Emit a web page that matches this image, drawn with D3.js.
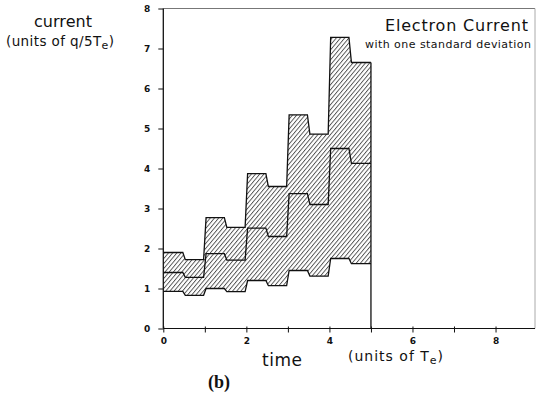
<!DOCTYPE html>
<html><head><meta charset="utf-8">
<script src="https://cdn.jsdelivr.net/npm/d3@7"></script>
<style>body{margin:0;background:#fff}svg{display:block}</style>
</head><body>
<svg id="c" width="537" height="394"></svg>
<script>
// ---- data ----
const binStart = [0, 0.5, 1, 1.5, 2, 2.5, 3, 3.5, 4, 4.5];
const binWidth = 0.5;
const upper = [1.90, 1.72, 2.77, 2.53, 3.87, 3.55, 5.34, 4.86, 7.28, 6.65];
const mean  = [1.40, 1.28, 1.87, 1.71, 2.51, 2.30, 3.37, 3.10, 4.50, 4.13];
const lower = [0.93, 0.83, 1.00, 0.92, 1.20, 1.07, 1.45, 1.31, 1.75, 1.62];
const xTicks = [0, 1, 2, 3, 4, 5, 6, 7, 8];
const xTickLabels = ["0", "", "2", "", "4", "", "6", "", "8"];
const yTicks = [0, 1, 2, 3, 4, 5, 6, 7, 8];

const svg = d3.select("#c");
const x = d3.scaleLinear().domain([0, 8.95]).range([163.3, 535]);
const y = d3.scaleLinear().domain([0, 8]).range([328.5, 8.5]);

// hatch pattern
const defs = svg.append("defs");
const pat = defs.append("pattern").attr("id", "hatch")
  .attr("patternUnits", "userSpaceOnUse").attr("width", 3.2).attr("height", 10)
  .attr("patternTransform", "rotate(40)");
pat.append("line").attr("x1", 0.5).attr("y1", 0).attr("x2", 0.5).attr("y2", 10)
  .attr("stroke", "#111").attr("stroke-width", 0.75);

// build step points with slightly slanted transitions
const eps = 0.03;
const pts = [];
binStart.forEach((s, i) => {
  const e = s + binWidth;
  const a = i === 0 ? s : s + eps;
  const b = i === binStart.length - 1 ? e : e - eps;
  pts.push({x: a, hi: upper[i], m: mean[i], lo: lower[i]});
  pts.push({x: b, hi: upper[i], m: mean[i], lo: lower[i]});
});

const area = d3.area().x(d => x(d.x)).y0(d => y(d.lo)).y1(d => y(d.hi));
svg.append("path").datum(pts).attr("d", area).attr("fill", "url(#hatch)");

const mk = key => d3.line().x(d => x(d.x)).y(d => y(d[key]));
["hi", "m", "lo"].forEach(k => {
  svg.append("path").datum(pts).attr("d", mk(k))
    .attr("fill", "none").attr("stroke", "#111").attr("stroke-width", 1.3);
});
// right edge down to zero
const last = pts[pts.length - 1];
svg.append("line").attr("x1", x(last.x)).attr("x2", x(last.x))
  .attr("y1", y(last.hi)).attr("y2", y(0)).attr("stroke", "#111").attr("stroke-width", 1.3);

// frame
svg.append("line").attr("x1", x(0)).attr("x2", 535).attr("y1", y(8)).attr("y2", y(8))
  .attr("stroke", "#777").attr("stroke-width", 1);
svg.append("line").attr("x1", 535).attr("x2", 535).attr("y1", y(8)).attr("y2", y(0))
  .attr("stroke", "#aaa").attr("stroke-width", 1);

// y axis
const yAxis = d3.axisLeft(y).tickValues(yTicks).tickSize(5).tickPadding(8)
  .tickFormat(d3.format("d"));
const gy = svg.append("g").attr("transform", `translate(${x(0)},0)`).call(yAxis);
gy.select(".domain").attr("stroke", "#111").attr("stroke-width", 1.3).attr("d", `M0,${y(0)}V${y(8)}`);
gy.selectAll(".tick line").attr("stroke", "#111");
gy.selectAll("text").attr("font-family", "DejaVu Sans").attr("font-size", 9)
  .attr("font-weight", "bold").attr("fill", "#111");

// x axis
const xAxis = d3.axisBottom(x).tickValues(xTicks).tickSize(4).tickPadding(5)
  .tickFormat((d, i) => xTickLabels[i]);
const gx = svg.append("g").attr("transform", `translate(0,${y(0)})`).call(xAxis);
gx.select(".domain").attr("stroke", "#111").attr("stroke-width", 1.2).attr("d", `M${x(0)},0H535`);
gx.selectAll(".tick line").attr("stroke", "#111").attr("y1", -2);
gx.selectAll("text").attr("font-family", "DejaVu Sans").attr("font-size", 9)
  .attr("font-weight", "bold").attr("fill", "#111");

// labels
const F = "DejaVu Sans";
svg.append("text").attr("x", 34).attr("y", 27)
  .attr("font-family", F).attr("font-size", 16).attr("fill", "#111")
  .attr("textLength", 58).attr("lengthAdjust", "spacing").text("current");
const t2 = svg.append("text").attr("x", 6).attr("y", 46)
  .attr("font-family", F).attr("font-size", 13.5).attr("letter-spacing", 0.4).attr("fill", "#111");
t2.append("tspan").text("(units of q/5T");
t2.append("tspan").attr("dy", 3).attr("font-size", 11).text("e");
t2.append("tspan").attr("dy", -3).text(")");

svg.append("text").attr("x", 385).attr("y", 31)
  .attr("font-family", F).attr("font-size", 16).attr("fill", "#111")
  .attr("textLength", 143).attr("lengthAdjust", "spacing").text("Electron Current");
svg.append("text").attr("x", 365).attr("y", 48)
  .attr("font-family", F).attr("font-size", 11).attr("fill", "#111")
  .attr("textLength", 166).attr("lengthAdjust", "spacing").text("with one standard deviation");

svg.append("text").attr("x", 262).attr("y", 366)
  .attr("font-family", F).attr("font-size", 17).attr("fill", "#111")
  .attr("textLength", 40).attr("lengthAdjust", "spacing").text("time");
const t3 = svg.append("text").attr("x", 348).attr("y", 361)
  .attr("font-family", F).attr("font-size", 14).attr("letter-spacing", 1).attr("fill", "#111");
t3.append("tspan").text("(units of T");
t3.append("tspan").attr("dy", 3).attr("font-size", 11).text("e");
t3.append("tspan").attr("dy", -3).text(")");

svg.append("text").attr("x", 219).attr("y", 388).attr("text-anchor", "middle")
  .attr("font-family", "Liberation Serif").attr("font-weight", "bold")
  .attr("font-size", 18).attr("fill", "#111").text("(b)");
</script>
</body></html>
